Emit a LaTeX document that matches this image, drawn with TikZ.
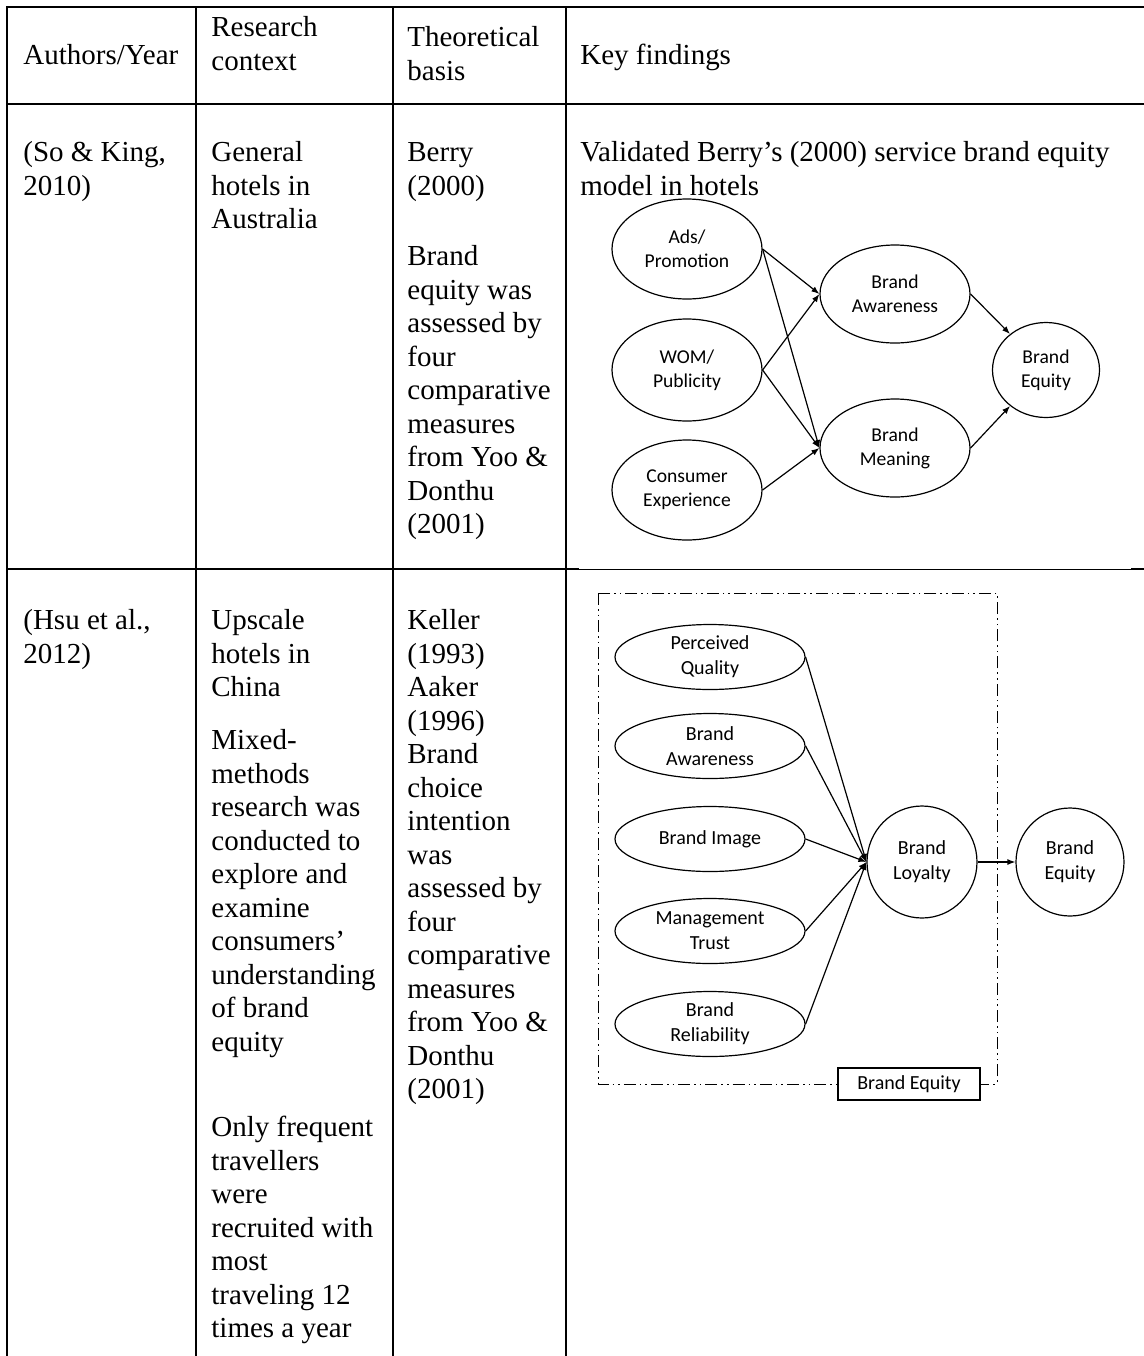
\documentclass[tikz,border=0pt]{standalone}
\usepackage{fontspec}
\setmainfont{Liberation Serif}
\newfontfamily\diagfont{Carlito}
\usetikzlibrary{shapes.geometric,arrows.meta}

% one node per printed line, 33.5 units apart
\newcommand\celllines[4]{%
  \foreach \t [count=\i] in {#4}{%
    \node[txt] (#1\i) at (#2,{#3+(\i-1)*33.5}) {\t};}}

\begin{document}
\begin{tikzpicture}[x=0.5pt,y=-0.5pt,
  rule/.style={line width=1pt,line cap=rect},
  txt/.style={anchor=mid west,inner sep=0,yshift=-2.5pt,font=\fontsize{14.5}{16.75}\selectfont},
  oval/.style={draw,ellipse,line width=0.6pt,inner sep=0,align=center,
    font=\diagfont\fontsize{9.8}{12}\selectfont},
  ovalB/.style={oval,font=\diagfont\fontsize{10}{12.5}\selectfont},
  link/.style={line width=0.6pt,-{Latex[length=4pt,width=3pt]}},
]
\useasboundingbox (0,0) rectangle (1144,1356);

% ---------- table rules ----------
\draw[rule] (7,7) -- (1144,7);
\draw[rule] (7,104) -- (1144,104);
\draw[rule] (7,569) -- (578,569);
\draw[line width=0.5pt] (578,569) -- (1132,569);
\draw[rule] (1132,569) -- (1144,569);
\foreach \x in {7,196,393,566} \draw[rule] (\x,7) -- (\x,1356);

% ---------- header ----------
\node[txt] (hA) at (23,55) {Authors/Year};
\celllines{hB}{211}{27}{Research,context}
\celllines{hC}{407}{37}{Theoretical,basis}
\node[txt] (hD) at (580,55) {Key findings};

% ---------- row 1 ----------
\celllines{aA}{23}{152}{{(So \& King,},2010)}
\celllines{aB}{211}{152}{General,hotels in,Australia}
\celllines{aC}{407}{152}{Berry,(2000)}
\celllines{aCC}{407}{256}{Brand,equity was,assessed by,four,comparative,measures,from Yoo \&,Donthu,(2001)}
\celllines{aD}{580}{152}{Validated Berry’s (2000) service brand equity,model in hotels}

% ---------- row 2 ----------
\celllines{bA}{23}{620}{{(Hsu et al.,},2012)}
\celllines{bB}{211}{620}{Upscale,hotels in,China}
\celllines{bBB}{211}{740}{Mixed-,methods,research was,conducted to,explore and,examine,consumers’,understanding,of brand,equity}
\celllines{bBBB}{211}{1127}{Only frequent,travellers,were,recruited with,most,traveling 12,times a year}
\celllines{bC}{407}{620}{Keller,(1993)}
\celllines{bCC}{407}{687}{Aaker,(1996)}
\celllines{bCCC}{407}{754}{Brand,choice,intention,was,assessed by,four,comparative,measures,from Yoo \&,Donthu,(2001)}

% ---------- service brand equity model ----------
\node[oval,minimum width=75pt,minimum height=50pt] (ads) at (687,249) {Ads/\\Promotion};
\node[oval,minimum width=75pt,minimum height=51pt] (wom) at (687,370) {WOM/\\Publicity};
\node[oval,minimum width=75pt,minimum height=50pt] (cex) at (687,490) {Consumer\\Experience};
\node[oval,minimum width=75pt,minimum height=49pt] (baw) at (895,294) {Brand\\Awareness};
\node[oval,minimum width=75pt,minimum height=49pt] (bme) at (895,448) {Brand\\Meaning};
\node[oval,minimum width=53.5pt,minimum height=47.5pt] (beq) at (1046,370) {Brand\\Equity};

\draw[link] (ads.east) -- (baw.west);
\draw[link] (ads.east) -- (bme.west);
\draw[link] (wom.east) -- (baw.west);
\draw[link] (wom.east) -- (bme.west);
\draw[link] (cex.east) -- (bme.west);
\draw[link] (baw.east) -- (beq.135);
\draw[link] (bme.east) -- (beq.-135);

% ---------- brand loyalty model ----------
\draw[line width=0.5pt,dash pattern=on 6pt off 2pt on 0.8pt off 2pt on 0.8pt off 2pt]
  (598,593) rectangle (997,1084);
\node[draw,fill=white,line width=0.6pt,minimum width=71pt,minimum height=16pt,inner sep=0,
  font=\diagfont\fontsize{10}{12}\selectfont] (frame) at (909,1084) {Brand Equity};

\node[ovalB,minimum width=95pt,minimum height=32.5pt] (pq) at (710,657) {Perceived\\Quality};
\node[ovalB,minimum width=95pt,minimum height=32.5pt] (aw) at (710,746) {Brand\\Awareness};
\node[ovalB,minimum width=95pt,minimum height=32.5pt] (im) at (710,839) {Brand Image};
\node[ovalB,minimum width=95pt,minimum height=32.5pt] (mt) at (710,931) {Management\\Trust};
\node[ovalB,minimum width=95pt,minimum height=32.5pt] (re) at (710,1024) {Brand\\Reliability};
\node[ovalB,minimum width=55pt,minimum height=56pt] (loy) at (922,862) {Brand\\Loyalty};
\node[ovalB,minimum width=54pt,minimum height=54pt] (eq) at (1070,862) {Brand\\Equity};

\foreach \s in {pq,aw,im,mt,re} \draw[link] (\s.east) -- (loy.west);
\draw[link] (loy.east) -- (eq.west);
\end{tikzpicture}
\end{document}
